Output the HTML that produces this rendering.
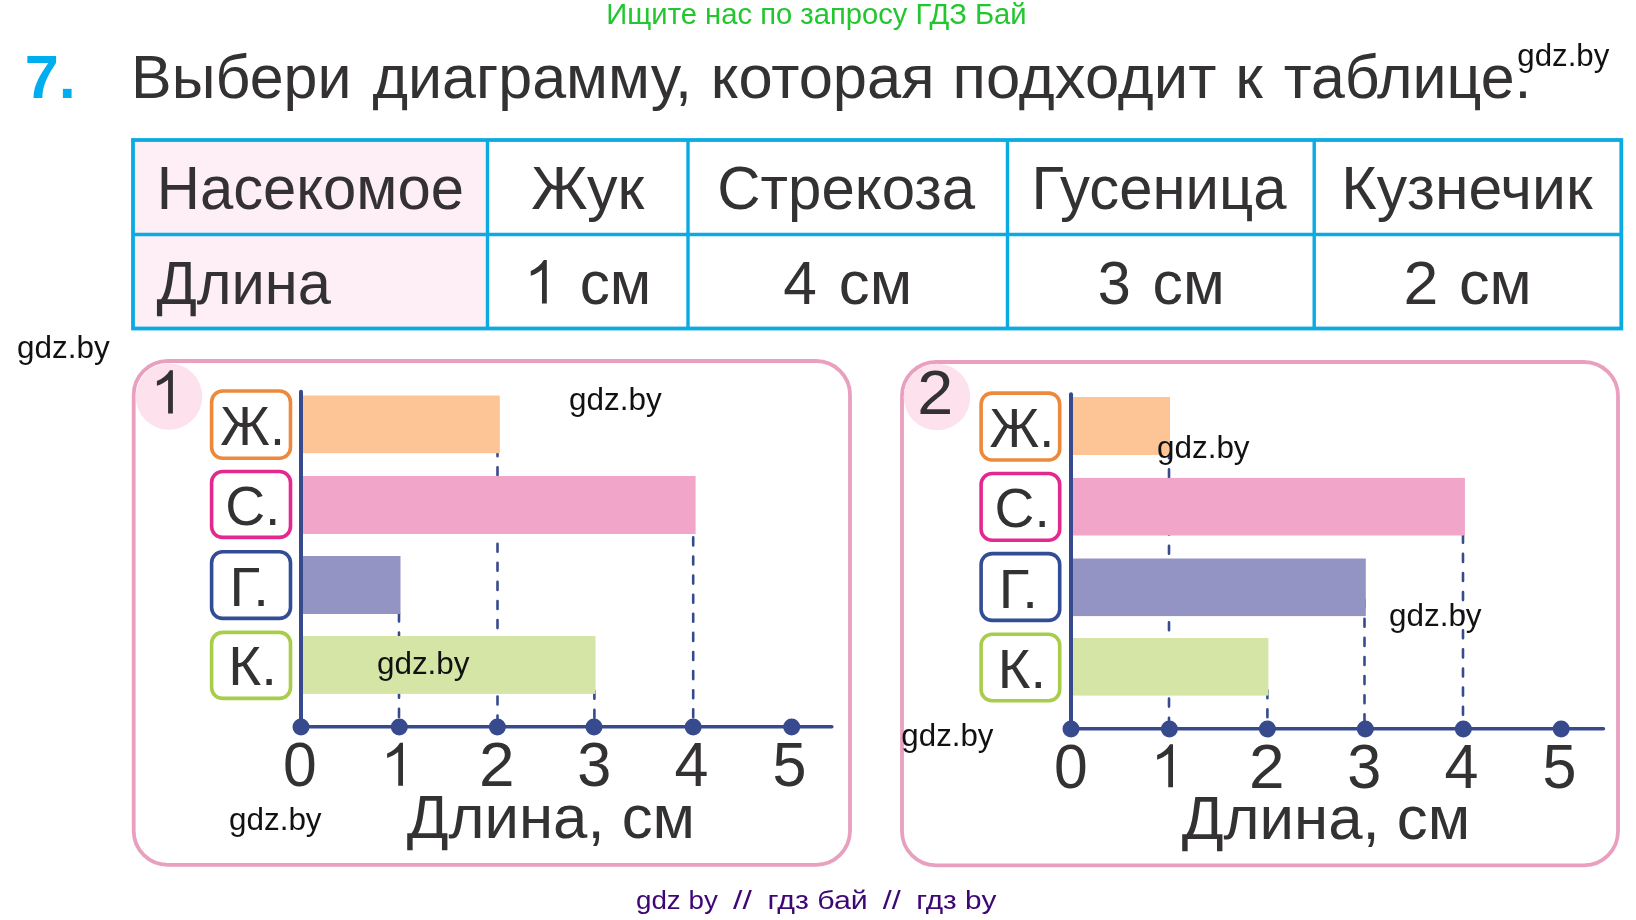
<!DOCTYPE html>
<html><head><meta charset="utf-8">
<style>
html,body{margin:0;padding:0;background:#fff;width:1636px;height:920px;overflow:hidden;}
svg{display:block;will-change:transform;}
text{font-family:"Liberation Sans",sans-serif;}
</style></head>
<body>
<svg width="1636" height="920" viewBox="0 0 1636 920">
<text transform="translate(606.36,23.60) scale(0.9935,1)" font-size="29.4" fill="#22c62e">Ищите нас по запросу ГДЗ Бай</text>
<text transform="translate(24.65,97.90) scale(0.9878,1)" font-size="62" fill="#00aeef" font-weight="bold">7.</text>
<text transform="translate(131.02,98.00) scale(0.9911,1)" font-size="61.5" fill="#333132">Выбери</text>
<text transform="translate(372.39,98.00) scale(0.9921,1)" font-size="61.5" fill="#333132">диаграмму,</text>
<text transform="translate(710.81,98.00) scale(0.9992,1)" font-size="61.5" fill="#333132">которая</text>
<text transform="translate(952.59,98.00) scale(1.0020,1)" font-size="61.5" fill="#333132">подходит</text>
<text transform="translate(1235.31,98.00) scale(1.0233,1)" font-size="61.5" fill="#333132">к</text>
<text transform="translate(1283.79,98.00) scale(0.9904,1)" font-size="61.5" fill="#333132">таблице.</text>
<rect x="133" y="140" width="354.5" height="188.5" fill="#feeef5"/>
<g stroke="#0caae2" fill="none">
<rect x="133" y="140" width="1488.3" height="188.5" stroke-width="3.8"/>
<line x1="133" y1="234.5" x2="1621" y2="234.5" stroke-width="3.4"/>
<line x1="487.5" y1="140" x2="487.5" y2="328.5" stroke-width="3.4"/>
<line x1="688" y1="140" x2="688" y2="328.5" stroke-width="3.4"/>
<line x1="1007.5" y1="140" x2="1007.5" y2="328.5" stroke-width="3.4"/>
<line x1="1314.2" y1="140" x2="1314.2" y2="328.5" stroke-width="3.4"/>
</g>
<text transform="translate(156.72,208.80) scale(0.9803,1)" font-size="61" fill="#333132">Насекомое</text>
<text transform="translate(531.28,209.30) scale(1.0015,1)" font-size="61" fill="#333132">Жук</text>
<text transform="translate(717.30,208.90) scale(0.9832,1)" font-size="61" fill="#333132">Стрекоза</text>
<text transform="translate(1031.61,209.30) scale(0.9813,1)" font-size="61" fill="#333132">Гусеница</text>
<text transform="translate(1341.34,209.30) scale(0.9961,1)" font-size="61" fill="#333132">Кузнечик</text>
<text transform="translate(156.40,304.10) scale(0.9774,1)" font-size="61" fill="#333132">Длина</text>
<text transform="translate(579.69,303.80) scale(0.9882,1)" font-size="61" fill="#333132">см</text>
<text transform="translate(783.29,303.70) scale(0.9901,1)" font-size="61" fill="#333132">4</text>
<text transform="translate(838.83,303.70) scale(1.0124,1)" font-size="61" fill="#333132">см</text>
<text transform="translate(1097.63,303.60) scale(0.9733,1)" font-size="61" fill="#333132">3</text>
<text transform="translate(1152.57,303.60) scale(0.9957,1)" font-size="61" fill="#333132">см</text>
<text transform="translate(1403.57,303.90) scale(1.0268,1)" font-size="61" fill="#333132">2</text>
<text transform="translate(1458.95,303.90) scale(1.0049,1)" font-size="61" fill="#333132">см</text>
<path d="M 546.80 260.10 L 546.80 303.60 L 541.99 303.60 L 541.99 269.63 C 538.88 271.93 534.88 274.46 530.75 275.63 L 530.75 271.02 C 535.88 268.93 540.88 264.93 543.80 260.10 Z" fill="#333132"/>
<rect x="133.7" y="361" width="716.3" height="503.8" rx="34" ry="34" fill="none" stroke="#e9a0bf" stroke-width="3.8"/>
<circle cx="169" cy="396.5" r="33.3" fill="#fde1ec"/>
<path d="M 172.90 370.20 L 172.90 413.60 L 168.10 413.60 L 168.10 379.70 C 165.00 382.00 161.01 384.52 156.89 385.69 L 156.89 381.09 C 162.01 379.01 167.00 375.02 169.91 370.20 Z" fill="#333132"/>
<rect x="211.6" y="391.0" width="78.9" height="67.2" rx="11" fill="none" stroke="#ec893d" stroke-width="3.6"/>
<rect x="211.6" y="471.5" width="78.9" height="65.9" rx="11" fill="none" stroke="#e3288e" stroke-width="3.6"/>
<rect x="211.6" y="551.7" width="78.9" height="66.7" rx="11" fill="none" stroke="#324c96" stroke-width="3.6"/>
<rect x="211.6" y="632.4" width="78.9" height="66.0" rx="11" fill="none" stroke="#a8cd4a" stroke-width="3.6"/>
<text transform="translate(220.29,445.00) scale(0.9571,1)" font-size="56.2" fill="#333132">Ж.</text>
<text transform="translate(225.14,525.20) scale(0.9823,1)" font-size="56.2" fill="#333132">С.</text>
<text transform="translate(229.59,605.90) scale(1.0032,1)" font-size="56.2" fill="#333132">Г.</text>
<text transform="translate(228.28,685.30) scale(1.0057,1)" font-size="56.2" fill="#333132">К.</text>
<line x1="497.5" y1="448.20" x2="497.5" y2="726.8" stroke="#374a8d" stroke-width="2.6" stroke-linecap="round" stroke-dasharray="8.0 11.10"/>
<line x1="693.2" y1="518.30" x2="693.2" y2="726.8" stroke="#374a8d" stroke-width="2.6" stroke-linecap="round" stroke-dasharray="8.0 11.10"/>
<line x1="399" y1="613.40" x2="399" y2="726.8" stroke="#374a8d" stroke-width="2.6" stroke-linecap="round" stroke-dasharray="8.0 11.10"/>
<line x1="594.4" y1="690.80" x2="594.4" y2="726.8" stroke="#374a8d" stroke-width="2.6" stroke-linecap="round" stroke-dasharray="8.0 11.10"/>
<rect x="303" y="395.5" width="196.8" height="57.7" fill="#fdc595"/>
<rect x="303" y="476" width="392.6" height="58.0" fill="#f1a6c9"/>
<rect x="303" y="556" width="97.5" height="58.0" fill="#9494c4"/>
<rect x="303" y="636" width="292.5" height="57.9" fill="#d5e5a5"/>
<line x1="301" y1="391.8" x2="301" y2="726.8" stroke="#374a8d" stroke-width="4" stroke-linecap="round"/>
<line x1="301" y1="726.8" x2="831.8" y2="726.8" stroke="#374a8d" stroke-width="3.6" stroke-linecap="round"/>
<circle cx="301" cy="727.0999999999999" r="8.5" fill="#374a8d"/>
<circle cx="399.3" cy="727.0999999999999" r="8.5" fill="#374a8d"/>
<circle cx="497.4" cy="727.0999999999999" r="8.5" fill="#374a8d"/>
<circle cx="594" cy="727.0999999999999" r="8.5" fill="#374a8d"/>
<circle cx="693.2" cy="727.0999999999999" r="8.5" fill="#374a8d"/>
<circle cx="791.7" cy="727.0999999999999" r="8.5" fill="#374a8d"/>
<text transform="translate(282.97,786.40) scale(0.9731,1)" font-size="62.3" fill="#333132">0</text>
<path d="M 403.00 742.70 L 403.00 785.70 L 398.24 785.70 L 398.24 752.12 C 395.17 754.40 391.22 756.89 387.13 758.05 L 387.13 753.49 C 392.21 751.43 397.15 747.47 400.03 742.70 Z" fill="#333132"/>
<text transform="translate(479.10,786.40) scale(1.0266,1)" font-size="62.3" fill="#333132">2</text>
<text transform="translate(577.35,786.40) scale(0.9834,1)" font-size="62.3" fill="#333132">3</text>
<text transform="translate(674.48,786.40) scale(0.9790,1)" font-size="62.3" fill="#333132">4</text>
<text transform="translate(772.56,786.40) scale(0.9800,1)" font-size="62.3" fill="#333132">5</text>
<text transform="translate(406.69,837.70) scale(1.0121,1)" font-size="61" fill="#333132">Длина, см</text>
<rect x="902" y="362" width="716" height="503.3" rx="34" ry="34" fill="none" stroke="#e9a0bf" stroke-width="3.8"/>
<circle cx="937" cy="397" r="33.3" fill="#fde1ec"/>
<text transform="translate(917.17,414.10) scale(1.0338,1)" font-size="62.5" fill="#333132">2</text>
<rect x="981.1" y="393.1" width="78.6" height="66.9" rx="11" fill="none" stroke="#ec893d" stroke-width="3.6"/>
<rect x="981.1" y="473.5" width="78.6" height="66.7" rx="11" fill="none" stroke="#e3288e" stroke-width="3.6"/>
<rect x="981.1" y="553.6" width="78.6" height="66.8" rx="11" fill="none" stroke="#324c96" stroke-width="3.6"/>
<rect x="981.1" y="634.2" width="78.6" height="66.5" rx="11" fill="none" stroke="#a8cd4a" stroke-width="3.6"/>
<text transform="translate(989.49,446.90) scale(0.9587,1)" font-size="56.2" fill="#333132">Ж.</text>
<text transform="translate(994.54,527.40) scale(0.9823,1)" font-size="56.2" fill="#333132">С.</text>
<text transform="translate(998.69,607.80) scale(1.0032,1)" font-size="56.2" fill="#333132">Г.</text>
<text transform="translate(997.82,687.70) scale(0.9954,1)" font-size="56.2" fill="#333132">К.</text>
<line x1="1169" y1="450.30" x2="1169" y2="728.7" stroke="#374a8d" stroke-width="2.6" stroke-linecap="round" stroke-dasharray="8.0 11.10"/>
<line x1="1463" y1="534.80" x2="1463" y2="728.7" stroke="#374a8d" stroke-width="2.6" stroke-linecap="round" stroke-dasharray="8.0 11.10"/>
<line x1="1364.5" y1="599.70" x2="1364.5" y2="728.7" stroke="#374a8d" stroke-width="2.6" stroke-linecap="round" stroke-dasharray="8.0 11.10"/>
<line x1="1267.4" y1="690.20" x2="1267.4" y2="728.7" stroke="#374a8d" stroke-width="2.6" stroke-linecap="round" stroke-dasharray="8.0 11.10"/>
<rect x="1073" y="397" width="97.0" height="58.0" fill="#fdc595"/>
<rect x="1073" y="477.9" width="391.9" height="57.6" fill="#f1a6c9"/>
<rect x="1073" y="558.5" width="292.8" height="57.6" fill="#9494c4"/>
<rect x="1073" y="638" width="195.4" height="57.6" fill="#d5e5a5"/>
<line x1="1071" y1="394.2" x2="1071" y2="728.7" stroke="#374a8d" stroke-width="4" stroke-linecap="round"/>
<line x1="1071" y1="728.7" x2="1603.4" y2="728.7" stroke="#374a8d" stroke-width="3.6" stroke-linecap="round"/>
<circle cx="1071" cy="729.0" r="8.5" fill="#374a8d"/>
<circle cx="1169.4" cy="729.0" r="8.5" fill="#374a8d"/>
<circle cx="1267.4" cy="729.0" r="8.5" fill="#374a8d"/>
<circle cx="1365.3" cy="729.0" r="8.5" fill="#374a8d"/>
<circle cx="1463.3" cy="729.0" r="8.5" fill="#374a8d"/>
<circle cx="1561.2" cy="729.0" r="8.5" fill="#374a8d"/>
<text transform="translate(1053.98,788.00) scale(0.9731,1)" font-size="62.3" fill="#333132">0</text>
<path d="M 1173.00 744.30 L 1173.00 787.30 L 1168.24 787.30 L 1168.24 753.72 C 1165.17 756.00 1161.22 758.49 1157.13 759.65 L 1157.13 755.09 C 1162.21 753.03 1167.15 749.07 1170.03 744.30 Z" fill="#333132"/>
<text transform="translate(1249.10,788.00) scale(1.0266,1)" font-size="62.3" fill="#333132">2</text>
<text transform="translate(1347.35,788.00) scale(0.9834,1)" font-size="62.3" fill="#333132">3</text>
<text transform="translate(1444.48,788.00) scale(0.9790,1)" font-size="62.3" fill="#333132">4</text>
<text transform="translate(1542.56,788.00) scale(0.9800,1)" font-size="62.3" fill="#333132">5</text>
<text transform="translate(1181.69,839.40) scale(1.0128,1)" font-size="61" fill="#333132">Длина, см</text>
<text transform="translate(1517.25,65.70) scale(0.9768,1)" font-size="32" fill="#111111">gdz.by</text>
<text transform="translate(17.04,358.00) scale(0.9832,1)" font-size="32" fill="#111111">gdz.by</text>
<text transform="translate(569.04,409.90) scale(0.9821,1)" font-size="32" fill="#111111">gdz.by</text>
<text transform="translate(376.94,673.90) scale(0.9821,1)" font-size="32" fill="#111111">gdz.by</text>
<text transform="translate(228.94,829.80) scale(0.9832,1)" font-size="32" fill="#111111">gdz.by</text>
<text transform="translate(1156.94,457.80) scale(0.9832,1)" font-size="32" fill="#111111">gdz.by</text>
<text transform="translate(1388.94,625.80) scale(0.9832,1)" font-size="32" fill="#111111">gdz.by</text>
<text transform="translate(901.35,745.80) scale(0.9778,1)" font-size="32" fill="#111111">gdz.by</text>
<text transform="translate(635.99,908.50) scale(1.0980,1)" font-size="25.3" fill="#3d0873">gdz by</text>
<text transform="translate(733.00,908.50) scale(1.3411,1)" font-size="25.3" fill="#3d0873">//</text>
<text transform="translate(767.47,908.50) scale(1.2001,1)" font-size="25.3" fill="#3d0873">гдз бай</text>
<text transform="translate(882.80,908.50) scale(1.2846,1)" font-size="25.3" fill="#3d0873">//</text>
<text transform="translate(916.21,908.50) scale(1.1775,1)" font-size="25.3" fill="#3d0873">гдз by</text>
</svg>
</body></html>
